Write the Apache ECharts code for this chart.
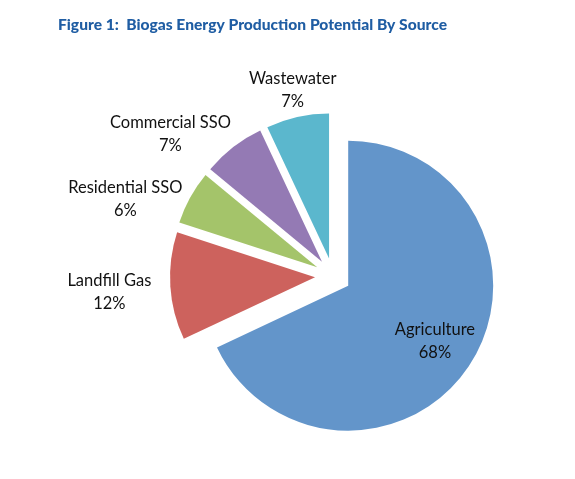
<!DOCTYPE html>
<html>
<head>
<meta charset="utf-8">
<script src="https://cdn.jsdelivr.net/npm/echarts@6/dist/echarts.min.js"></script>
<style>html,body{margin:0;padding:0;background:#fff;}#c{width:575px;height:479px;}</style>
</head>
<body>
<div id="c"></div>
<script>
const titleText = 'Figure 1:  Biogas Energy Production Potential By Source';
const categories = ['Agriculture', 'Landfill Gas', 'Residential SSO', 'Commercial SSO', 'Wastewater'];
const values = [68, 12, 6, 7, 7];
const colors = ['#6395CA', '#CD625D', '#A4C46A', '#947AB4', '#5BB7CD'];

const chart = echarts.init(document.getElementById('c'), null, {renderer: 'canvas'});

// label placement tweaks (labels only; label lines are hidden)
const labelCfg = {
  'Agriculture':     {len: 0,  len2: 0,  dx: 23, dy: 15},
  'Landfill Gas':    {len: 22, len2: 34, dx: 0,  dy: 5},
  'Residential SSO': {len: 1,  len2: 59, dx: 0,  dy: 2},
  'Commercial SSO':  {len: 19, len2: 46, dx: 0,  dy: 2},
  'Wastewater':      {len: 31, len2: 0,  dx: 7,  dy: 3}
};

const data = categories.map((name, i) => ({
  name: name,
  value: values[i],
  selected: true,
  itemStyle: {color: colors[i]},
  label: i === 0 ? {position: 'inside'} : {position: 'outside'},
  labelLine: {show: false, length: labelCfg[name].len, length2: labelCfg[name].len2}
}));

chart.setOption({
  animation: false,
  title: {
    text: titleText,
    left: 53,
    top: 12,
    textStyle: {fontFamily: 'Lato', fontWeight: 900, fontSize: 15.6, color: '#1F5DA3'}
  },
  series: [{
    type: 'pie',
    center: [333, 276],
    radius: [0, 145],
    startAngle: 90,
    clockwise: true,
    selectedMode: 'multiple',
    selectedOffset: 18,
    avoidLabelOverlap: false,
    emphasis: {disabled: true},
    itemStyle: {borderWidth: 0},
    label: {
      show: true,
      formatter: '{b}\n{c}%',
      fontFamily: 'Lato',
      fontSize: 16.5,
      lineHeight: 23,
      color: '#111111',
      distanceToLabelLine: 5
    },
    labelLayout: function (p) {
      const c = labelCfg[categories[p.dataIndex]];
      return {align: 'center', verticalAlign: 'middle', dx: c.dx, dy: c.dy};
    },
    data: data
  }]
});
</script>
</body>
</html>
